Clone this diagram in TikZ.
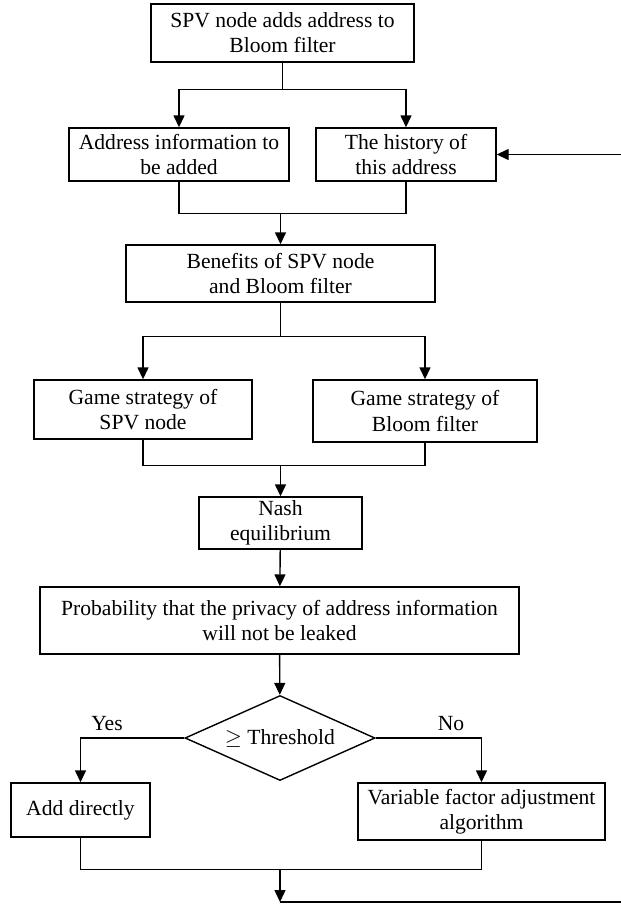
\documentclass[tikz,border=0pt]{standalone}
\usepackage{fontspec}
\setmainfont{Liberation Serif}
\usetikzlibrary{shapes.geometric,arrows.meta}
\begin{document}
\begin{tikzpicture}[x=0.5pt,y=-0.5pt,line width=0.7pt,font=\fontsize{10.8}{12.6}\selectfont]
  \tikzstyle{box}=[draw,rectangle,align=center,inner sep=1pt]
  \tikzstyle{arr}=[-{Triangle[length=6pt,width=5.5pt]}]
  \tikzstyle{decide}=[draw,diamond,shape aspect=2.2,inner sep=0pt,
  minimum width=95pt,minimum height=42.5pt]
  \useasboundingbox (0,0) rectangle (621,906);

  \node[box,minimum width=131.5pt,minimum height=29pt] (top) at (282.5,33)
    {SPV node adds address to\\Bloom filter};
  \node[box,minimum width=110pt,minimum height=26.5pt] (addr) at (179,154.5)
    {Address information to\\be added};
  \node[box,minimum width=90pt,minimum height=26.5pt] (hist) at (406,154.5)
    {The history of\\this address};
  \node[box,minimum width=154.5pt,minimum height=28.5pt] (ben) at (280.5,273.5)
    {Benefits of SPV node\\and Bloom filter};
  \node[box,minimum width=109pt,minimum height=29.5pt] (gspv) at (143,409.5)
    {Game strategy of\\SPV node};
  \node[box,minimum width=112pt,minimum height=31pt] (gbloom) at (425,411)
    {Game strategy of\\Bloom filter};
  \node[box,minimum width=81.5pt,minimum height=26pt] (nash) at (280.5,523)
    {Nash\\equilibrium};
  \node[box,minimum width=239.5pt,minimum height=33.5pt] (prob) at (279.5,620.5)
    {Probability that the privacy of address information\\will not be leaked};
  \node[decide] (dec) at (280,738) {$\geq$ Threshold};
  \node[box,minimum width=69.5pt,minimum height=27pt] (add) at (80.5,810)
    {Add directly};
  \node[box,minimum width=123.5pt,minimum height=28.5pt] (var) at (481.5,811.5)
    {Variable factor adjustment\\algorithm};
  \node (yes) at (107,724) {Yes};
  \node (no) at (451,724) {No};
  \coordinate (backT) at (621,154.5);
  \coordinate (backB) at (621,902);

  \draw[arr] (top.south) -- ++(0,27) coordinate (s1) -| (addr.north);
  \draw[arr] (s1) -| (hist.north);
  \draw (addr.south) -- ++(0,32) coordinate (m1) -| (hist.south);
  \draw[arr] (m1 -| ben.north) -- (ben.north);
  \draw[arr] (ben.south) -- ++(0,34) coordinate (s2) -| (gspv.north);
  \draw[arr] (s2) -| (gbloom.north);
  \draw (gspv.south) -- ++(0,26) coordinate (m2) -| (gbloom.south);
  \draw[arr] (m2 -| nash.north) -- (nash.north);
  \draw[arr] (nash) -- (prob);
  \draw[arr] (prob) -- (dec);
  \draw[arr] (dec.west) -| (add.north);
  \draw[arr] (dec.east) -| (var.north);
  \draw (add.south) -- ++(0,32) coordinate (m3) -| (var.south);
  \draw[arr] (m3 -| dec.south) -- (dec.south |- backB);
  \draw (dec.south |- backB) -- (backB);
  \draw[arr] (backT) -- (backT -| hist.east);
\end{tikzpicture}
\end{document}
